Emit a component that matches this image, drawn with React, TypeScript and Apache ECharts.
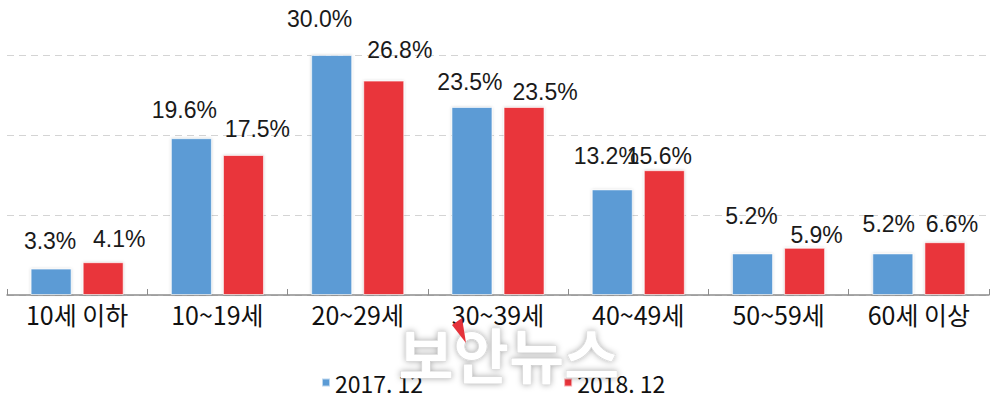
import React, { useEffect, useRef } from "react";
import * as echarts from "echarts";

const categories = ["10세 이하", "10~19세", "20~29세", "30~39세", "40~49세", "50~59세", "60세 이상"];
const series2017 = [3.3, 19.6, 30.0, 23.5, 13.2, 5.2, 5.2];
const series2018 = [4.1, 17.5, 26.8, 23.5, 15.6, 5.9, 6.6];
const seriesNames = ["2017. 12", "2018. 12"];

// label layout (pixel nudges relative to bar top centre)
const blueLabelShift = [[-1, -28], [-7, -29], [-12, -37], [-2, -26], [-6, -34], [-1, -38], [-4, -30]];
const redLabelShift = [[16, -24], [14, -27], [16, -31], [21, -16], [-5, -15], [12, -13], [7, -19]];

const BLUE = "#5B9BD5";
const RED = "#E9343B";

function makeData(values: number[], shifts: number[][]) {
  return values.map((v, i) => ({
    value: v,
    label: { offset: [shifts[i][0], shifts[i][1] + 12] },
  }));
}

export default function App() {
  const ref = useRef<HTMLDivElement>(null);
  useEffect(() => {
    if (!ref.current) return;
    const chart = echarts.init(ref.current, null, { renderer: "svg" });
    const labelStyle = {
      show: true,
      position: "top",
      distance: 0,
      fontFamily: "Liberation Sans, Arial, sans-serif",
      fontSize: 23,
      color: "#1a1a1a",
      formatter: (p: any) => p.value.toFixed(1) + "%",
    };
    const barItem = (c: string) => ({
      color: c,
      borderColor: "rgba(255,255,255,0.6)",
      borderWidth: 1,
      shadowColor: "rgba(0,0,0,0.18)",
      shadowBlur: 3,
    });
    chart.setOption({
      animation: false,
      backgroundColor: "#ffffff",
      grid: { left: 7, right: 11, top: 55, bottom: 100, containLabel: false },
      xAxis: {
        type: "category",
        data: categories,
        axisLine: { lineStyle: { color: "#8c8c8c", width: 1.5 } },
        axisTick: { show: true, inside: true, length: 6, lineStyle: { color: "#8c8c8c" } },
        axisLabel: {
          fontFamily: "Noto Sans CJK KR, sans-serif",
          fontSize: 25,
          color: "#111111",
          margin: 6,
        },
      },
      yAxis: {
        type: "value",
        min: 0,
        max: 30,
        interval: 10,
        axisLabel: { show: false },
        axisLine: { show: false },
        axisTick: { show: false },
        splitLine: { lineStyle: { color: "#d4d4d4", type: [7, 5], width: 1.2 } },
      },
      legend: {
        left: 316,
        top: 366,
        itemWidth: 8,
        itemHeight: 8,
        itemGap: 140,
        icon: "rect",
        textStyle: { fontFamily: "Noto Sans CJK KR, sans-serif", fontSize: 23, color: "#111111" },
        data: seriesNames,
      },
      series: [
        {
          name: seriesNames[0],
          type: "bar",
          data: makeData(series2017, blueLabelShift),
          barWidth: 41,
          barGap: "27%",
          itemStyle: barItem(BLUE),
          label: labelStyle,
        },
        {
          name: seriesNames[1],
          type: "bar",
          data: makeData(series2018, redLabelShift),
          barWidth: 41,
          itemStyle: barItem(RED),
          label: labelStyle,
        },
      ],
      graphic: [
        {
          type: "text",
          left: 398,
          top: 322,
          z: 100,
          style: {
            text: "보안뉴스",
            fontFamily: "Noto Sans CJK KR, sans-serif",
            fontWeight: "bold",
            fontSize: 60,
            fill: "#ffffff",
            stroke: "rgba(200,200,200,0.7)",
            lineWidth: 1,
            textShadowColor: "rgba(0,0,0,0.35)",
            textShadowBlur: 6,
          },
        },
        {
          type: "polygon",
          z: 101,
          shape: { points: [[452, 325], [462, 318], [466, 343]] },
          style: { fill: "#E5323A" },
        },
      ],
    });
    return () => chart.dispose();
  }, []);
  return (
    <div
      ref={ref}
      style={{ position: "absolute", left: 0, top: 0, width: 1000, height: 395 }}
    />
  );
}
